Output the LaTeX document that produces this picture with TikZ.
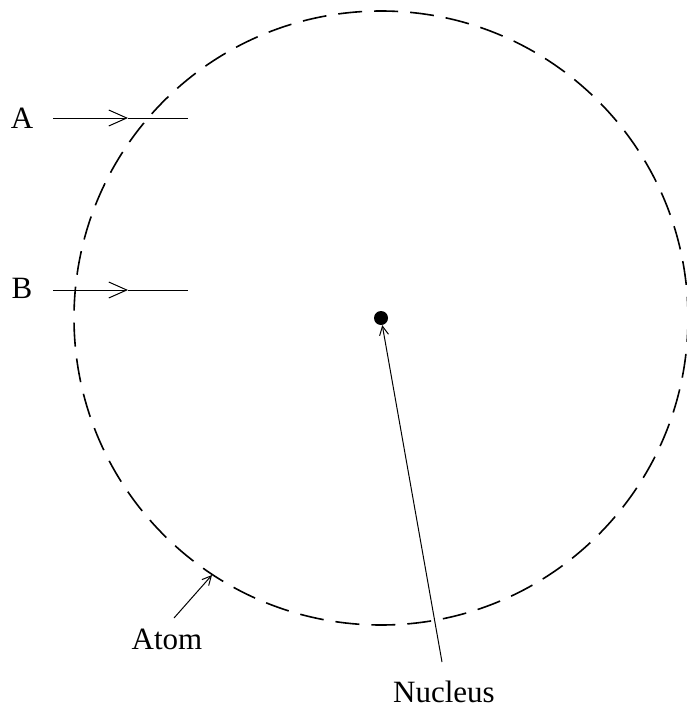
\documentclass[tikz,border=0pt]{standalone}
\usepackage{fontspec}
\setmainfont{Liberation Serif}
\usetikzlibrary{arrows.meta}

\begin{document}
\begin{tikzpicture}[x=1pt, y=-1pt, every node/.style={font=\fontsize{31}{36}\selectfont}]
    \tikzstyle{txt}=[inner sep=0pt]
    \tikzstyle{orbit}=[dash pattern=on 24pt off 12pt, line width=1.6pt]
    \tikzstyle{beam}=[line width=1pt, -{Straight Barb[length=18pt,width=16pt,line width=1pt]}]
    \tikzstyle{pointer}=[line width=1pt, -{Straight Barb[length=9pt,width=9pt,line width=1pt]}]
    \tikzstyle{dot}=[circle, fill=black, minimum size=14pt, inner sep=0pt]

    \useasboundingbox (0,0) rectangle (686,712);

    \draw[orbit] (381,318) circle (307);
    \node[dot] (nuc) at (381,318) {};

    \node[txt] (A) at (22,118) {A};
    \coordinate (astart) at (53,118);
    \coordinate (amid) at (128,118);
    \coordinate (aend) at (188,118);

    \node[txt] (B) at (22,288) {B};
    \coordinate (bstart) at (53,290);
    \coordinate (bmid) at (128,290);
    \coordinate (bend) at (188,290);

    \node[txt] (atom) at (167,639) {Atom};
    \coordinate (atail) at (174,618);
    \coordinate (ahead) at (212,575);

    \node[txt] (nucleus) at (444,692) {Nucleus};
    \coordinate (ntail) at (442,662);

    \draw[beam] (astart) -- (amid);
    \draw[line width=1pt] (amid) -- (aend);
    \draw[beam] (bstart) -- (bmid);
    \draw[line width=1pt] (bmid) -- (bend);
    \draw[pointer] (atail) -- (ahead);
    \draw[pointer] (ntail) -- (nuc);
\end{tikzpicture}
\end{document}
